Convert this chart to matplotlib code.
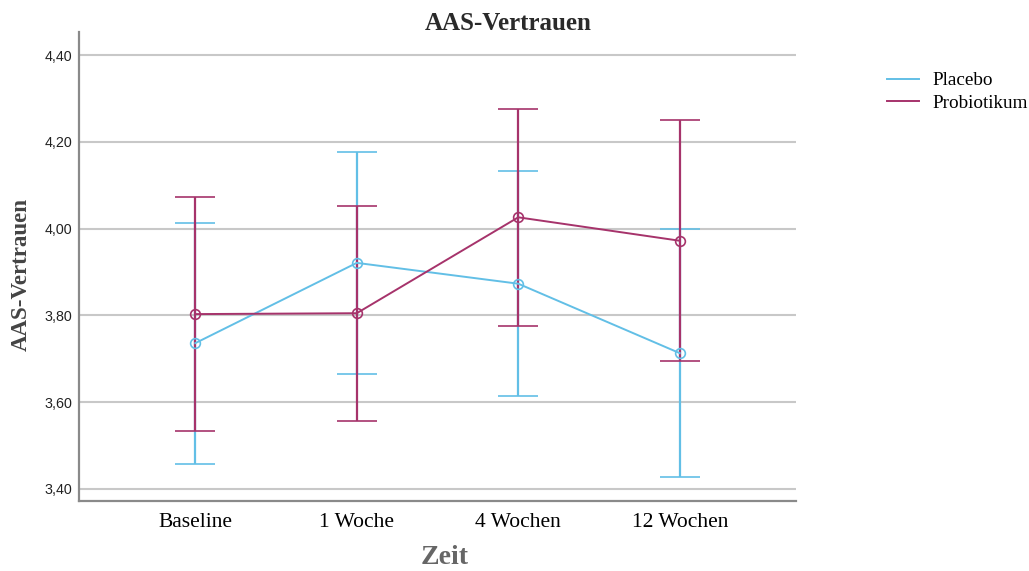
import matplotlib.pyplot as plt
import numpy as np

# Time points and group means with 95% CI bounds
zeitpunkte = ["Baseline", "1 Woche", "4 Wochen", "12 Wochen"]

placebo_mean = [3.736, 3.921, 3.873, 3.713]
placebo_upper = [4.014, 4.177, 4.133, 3.998]
placebo_lower = [3.457, 3.665, 3.615, 3.427]

probiotikum_mean = [3.803, 3.805, 4.026, 3.972]
probiotikum_upper = [4.072, 4.053, 4.276, 4.250]
probiotikum_lower = [3.534, 3.557, 3.776, 3.696]

yticks = [3.40, 3.60, 3.80, 4.00, 4.20, 4.40]

col_placebo = "#62bfe6"
col_probio = "#a6336b"

fig = plt.figure(figsize=(10.29, 5.71), dpi=100)
ax = fig.add_axes([79 / 1029, 1 - 500.7 / 571, (796 - 79) / 1029, (500.7 - 32) / 571])

x = np.arange(len(zeitpunkte))

groups = [
    ("Placebo", placebo_mean, placebo_lower, placebo_upper, col_placebo),
    ("Probiotikum", probiotikum_mean, probiotikum_lower, probiotikum_upper, col_probio),
]
for name, m, lo, hi, c in groups:
    m = np.array(m)
    err = [m - np.array(lo), np.array(hi) - m]
    ax.errorbar(x, m, yerr=err, color=c, lw=1.4, elinewidth=1.6, capsize=14.5,
                capthick=1.8, marker="o", markersize=7, markerfacecolor="none",
                markeredgewidth=1.2, label=name, zorder=3)

ax.set_xlim(-0.72, 3.72)
ax.set_ylim(3.373, 4.453)
ax.set_yticks(yticks)
ax.set_yticklabels([f"{v:.2f}".replace(".", ",") for v in yticks],
                   fontfamily="Liberation Sans", fontsize=10.3, color="#222222")
ax.set_xticks(x)
ax.set_xticklabels(zeitpunkte, fontfamily="Liberation Serif", fontsize=15.5)
ax.tick_params(axis="both", length=0)
ax.tick_params(axis="x", pad=9)
ax.tick_params(axis="y", pad=5)

ax.grid(axis="y", color="#c8c8c8", lw=1.5, zorder=0)
ax.set_axisbelow(True)
for s in ["top", "right"]:
    ax.spines[s].set_visible(False)
for s in ["left", "bottom"]:
    ax.spines[s].set_color("#8a8a8a")
    ax.spines[s].set_linewidth(1.6)

fig.text(508 / 1029, 1 - 23 / 571, "AAS-Vertrauen", ha="center", va="center",
         fontfamily="Liberation Serif", fontweight="bold", fontsize=18, color="#2a2a2a")
fig.text(21 / 1029, 1 - 275 / 571, "AAS-Vertrauen", ha="center", va="center", rotation=90,
         fontfamily="Liberation Serif", fontweight="bold", fontsize=16.5, color="#444444")
fig.text(445 / 1029, 1 - 557 / 571, "Zeit", ha="center", va="center",
         fontfamily="Liberation Serif", fontweight="bold", fontsize=20, color="#666666")

handles = [plt.Line2D([], [], color=col_placebo, lw=1.4),
           plt.Line2D([], [], color=col_probio, lw=1.4)]
fig.legend(handles, ["Placebo", "Probiotikum"], loc="upper left",
           bbox_to_anchor=(887 / 1029, 1 - 72 / 571), frameon=False, borderpad=0,
           borderaxespad=0, prop={"family": "Liberation Serif", "size": 13.8},
           handlelength=1.67, handletextpad=0.68, labelspacing=0.25)

fig.savefig("out.png", dpi=100)
